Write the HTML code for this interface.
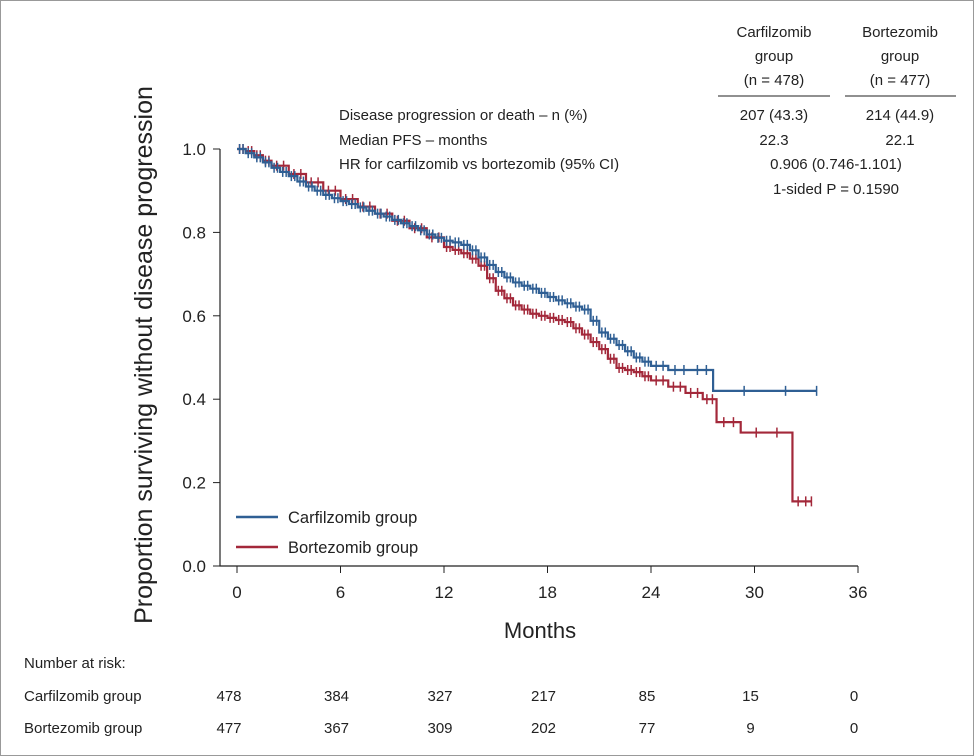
<!DOCTYPE html>
<html><head><meta charset="utf-8"><style>
body{margin:0;background:#fff;font-family:"Liberation Sans",sans-serif;}
#frame{position:absolute;left:0;top:0;width:972px;height:754px;border:1px solid #999;}
</style></head><body>
<div id="frame"></div>
<svg id="chart" width="974" height="756" style="position:absolute;left:0;top:0" font-family="Liberation Sans, sans-serif" fill="#222"></svg>
<script>
const months=[0,0.5,1,1.5,2,2.5,3,3.5,4,4.5,5,5.5,6,6.5,7,7.5,8,8.5,9,9.5,10,10.5,11,11.5,12,12.5,13,13.5,14,14.5,15,15.5,16,16.5,17,17.5,18,18.5,19,19.5,20,20.5,21,21.5,22,22.5,23,23.5,24,25,26.3,27.6,33.6];
const carfSurv=[1.0,0.99,0.98,0.968,0.955,0.945,0.935,0.922,0.91,0.9,0.89,0.882,0.875,0.868,0.86,0.852,0.845,0.838,0.83,0.822,0.815,0.805,0.795,0.787,0.78,0.776,0.77,0.757,0.74,0.722,0.705,0.692,0.68,0.672,0.665,0.655,0.645,0.637,0.63,0.622,0.615,0.588,0.56,0.545,0.53,0.515,0.5,0.49,0.48,0.47,0.47,0.42,0.42];
const bortMonths=[0,0.5,1,1.5,2,3,4,5,6,7,8,9,10,11,12,12.5,13,13.5,14,14.5,15,15.5,16,16.5,17,17.5,18,18.5,19,19.5,20,20.5,21,21.5,22,22.5,23,23.5,24,25,26,27,27.8,29.2,32.2,33.3];
const bortSurv=[1.0,0.995,0.985,0.972,0.96,0.94,0.92,0.9,0.88,0.862,0.845,0.828,0.81,0.788,0.765,0.758,0.75,0.737,0.72,0.69,0.66,0.642,0.625,0.615,0.605,0.6,0.595,0.59,0.585,0.57,0.555,0.537,0.52,0.497,0.475,0.47,0.465,0.455,0.445,0.43,0.415,0.4,0.345,0.32,0.155,0.155];
const xTicks=[0,6,12,18,24,30,36];
const yTicks=[0.0,0.2,0.4,0.6,0.8,1.0];
const riskCarf=[478,384,327,217,85,15,0];
const riskBort=[477,367,309,202,77,9,0];
const X=m=>237+m*17.25, Y=s=>566-s*417;
const svg=document.getElementById('chart');const NS='http://www.w3.org/2000/svg';
function mk(t,a,p){const e=document.createElementNS(NS,t);for(const k in a)e.setAttribute(k,a[k]);(p||svg).appendChild(e);return e;}
function txt(x,y,s,size,anchor,name){const e=mk('text',{x:x,y:y,'font-size':size,'text-anchor':anchor||'start'});e.textContent=s;

return e;}
const ax=mk('path',{d:`M220 149 V566 H${X(36)}`,stroke:'#222',fill:'none','stroke-width':1.2});


yTicks.forEach(v=>{mk('line',{x1:213,x2:220,y1:Y(v),y2:Y(v),stroke:'#222'});
txt(206,Y(v)+6,v.toFixed(1),17,'end','y-tick-label');});
xTicks.forEach(v=>{mk('line',{x1:X(v),x2:X(v),y1:566,y2:573,stroke:'#222'});
txt(X(v),598,String(v),17,'middle','x-tick-label');});
txt(540,638,'Months',22,'middle','x-axis-title');
const yt=txt(0,0,'Proportion surviving without disease progression',25,'middle','y-axis-title');
yt.setAttribute('transform','translate(152,355) rotate(-90)');
function curve(ms,ss,color,name){let d=`M${X(ms[0])} ${Y(ss[0])}`;
for(let i=1;i<ms.length;i++){d+=` H${X(ms[i])} V${Y(ss[i])}`;}
const p=mk('path',{d:d,stroke:color,fill:'none','stroke-width':2.2});


for(let i=0;i<ms.length-1;i++){for(const f of [0.3,0.7]){const m=ms[i]+(ms[i+1]-ms[i])*f;
mk('line',{x1:X(m),x2:X(m),y1:Y(ss[i])-5,y2:Y(ss[i])+5,stroke:color,'stroke-width':1.5});}}
mk('line',{x1:X(ms[ms.length-1]),x2:X(ms[ms.length-1]),y1:Y(ss[ss.length-1])-5,y2:Y(ss[ss.length-1])+5,stroke:color,'stroke-width':1.5});}
curve(bortMonths,bortSurv,'#a3283a','bortezomib-curve');
curve(months,carfSurv,'#2f5f94','carfilzomib-curve');
mk('line',{x1:236,x2:278,y1:517,y2:517,stroke:'#2f5f94','stroke-width':2.5});
txt(288,523,'Carfilzomib group',16.5,'start','legend-carfilzomib');
mk('line',{x1:236,x2:278,y1:547,y2:547,stroke:'#a3283a','stroke-width':2.5});
txt(288,553,'Bortezomib group',16.5,'start','legend-bortezomib');
txt(774,37,'Carfilzomib',15,'middle','table-header');txt(774,61,'group',15,'middle','table-header');txt(774,85,'(n = 478)',15,'middle','table-header');
txt(900,37,'Bortezomib',15,'middle','table-header');txt(900,61,'group',15,'middle','table-header');txt(900,85,'(n = 477)',15,'middle','table-header');
mk('line',{x1:718,x2:830,y1:96,y2:96,stroke:'#222'});mk('line',{x1:845,x2:956,y1:96,y2:96,stroke:'#222'});
txt(339,120,'Disease progression or death – n (%)',15,'start','table-row');
txt(774,120,'207 (43.3)',15,'middle','table-cell');txt(900,120,'214 (44.9)',15,'middle','table-cell');
txt(339,145,'Median PFS – months',15,'start','table-row');
txt(774,145,'22.3',15,'middle','table-cell');txt(900,145,'22.1',15,'middle','table-cell');
txt(339,169,'HR for carfilzomib vs bortezomib (95% CI)',15,'start','table-row');
txt(836,169,'0.906 (0.746-1.101)',15,'middle','table-cell');
txt(836,194,'1-sided P = 0.1590',15,'middle','table-cell');
txt(24,668,'Number at risk:',15,'start','risk-title');
txt(24,701,'Carfilzomib group',15,'start','risk-label');
txt(24,733,'Bortezomib group',15,'start','risk-label');
xTicks.forEach((v,i)=>{txt(X(v)-4+(i===0?-4:0),701,String(riskCarf[i]),15,'middle','risk-carfilzomib');
txt(X(v)-4+(i===0?-4:0),733,String(riskBort[i]),15,'middle','risk-bortezomib');});
</script>
</body></html>
